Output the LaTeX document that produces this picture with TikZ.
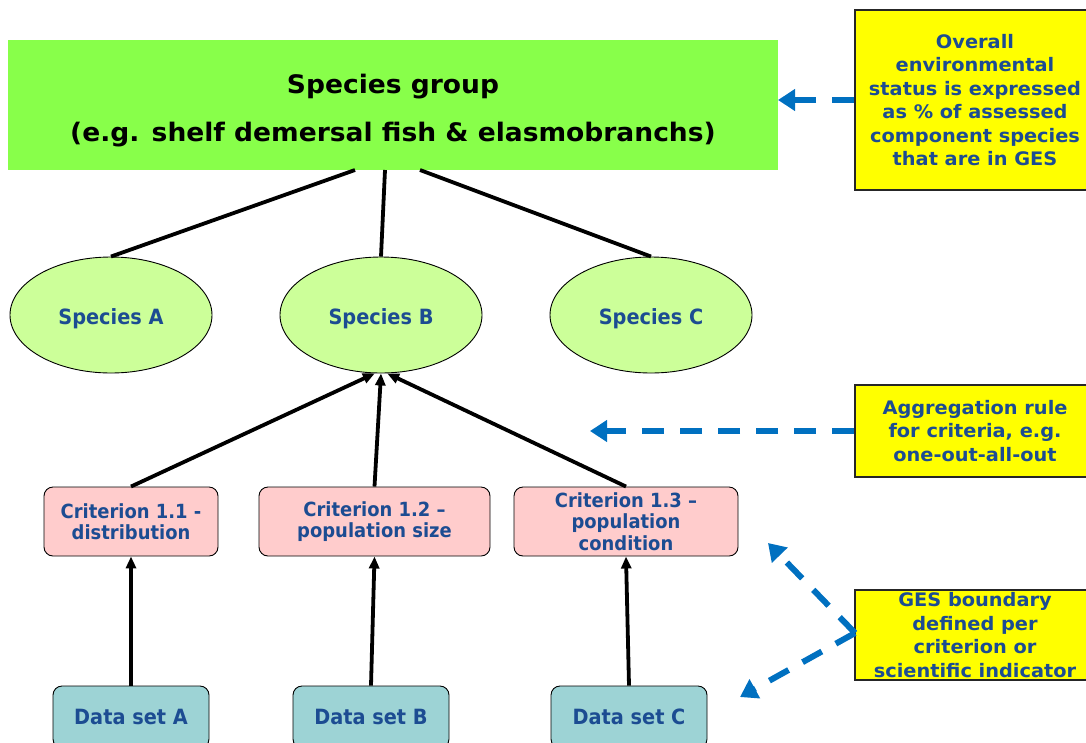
\documentclass[tikz,border=0pt]{standalone}
\usepackage{fontspec}
\setmainfont{DejaVu Sans}
\newfontfamily\condfont[FakeStretch=0.92]{DejaVu Sans}
\newfontfamily\widefont[FakeStretch=1.04]{DejaVu Sans}
\usetikzlibrary{arrows.meta,shapes.geometric}
\definecolor{grpgreen}{RGB}{136,255,74}
\definecolor{spgreen}{RGB}{204,255,153}
\definecolor{critpink}{RGB}{255,204,204}
\definecolor{datateal}{RGB}{157,211,213}
\definecolor{noteyellow}{RGB}{255,255,0}
\definecolor{txtblue}{RGB}{28,76,146}
\definecolor{arrblue}{RGB}{0,112,192}
\tikzset{
  x=1pt, y=-1pt,
  groupbox/.style={fill=grpgreen, draw=none, minimum width=770pt, minimum height=130pt, inner sep=0pt, align=center, font=\widefont\bfseries\fontsize{25.5}{48}\selectfont, text=black},
  species/.style={ellipse, draw=black, line width=0.9pt, fill=spgreen, minimum width=202pt, minimum height=116pt, inner sep=0pt, text=txtblue, font=\condfont\bfseries\fontsize{21}{24}\selectfont},
  crit/.style={rectangle, rounded corners=9pt, draw=black, line width=0.9pt, fill=critpink, minimum height=69pt, inner sep=0pt, align=center, text=txtblue, font=\condfont\bfseries\fontsize{19.5}{21.5}\selectfont},
  dataset/.style={rectangle, rounded corners=9pt, draw=black, line width=0.9pt, fill=datateal, minimum width=156pt, minimum height=62pt, inner sep=0pt, text=txtblue, font=\condfont\bfseries\fontsize{21}{24}\selectfont},
  note/.style={rectangle, draw=black!85, line width=1.6pt, fill=noteyellow, minimum width=240pt, inner sep=0pt, align=center, text=txtblue, font=\widefont\bfseries\fontsize{18.6}{23.4}\selectfont},
  link/.style={line width=3.8pt, black},
  uparrow/.style={line width=3.8pt, black, -{Triangle[length=12pt,width=10pt]}},
  bluearrow/.style={line width=6pt, arrblue, dash pattern=on 22pt off 16pt, -{Triangle[length=17pt,width=21pt]}},
}
\begin{document}
\begin{tikzpicture}
\useasboundingbox (0,0) rectangle (1086,742);
\clip (0,0) rectangle (1086,742);
% group
\node[groupbox] (grp) at (393,105) {\rule{0pt}{31pt}Species group\\(e.g. shelf demersal fish \& elasmobranchs)};
\coordinate (g1) at (355,170);
\coordinate (g2) at (385,170);
\coordinate (g3) at (420,170);
% species
\node[species] (spA) at (111,315) {\rule{0pt}{24pt}Species A};
\node[species] (spB) at (381,315) {\rule{0pt}{24pt}Species B};
\node[species] (spC) at (651,315) {\rule{0pt}{24pt}Species C};
% criteria
\node[crit, minimum width=174pt] (c1) at (131,521.5) {Criterion 1.1 -\\distribution};
\node[crit, minimum width=231pt] (c2) at (374.5,521.5) {Criterion 1.2 –\\population size};
\node[crit, minimum width=224pt] (c3) at (626,521.5) {Criterion 1.3 –\\population\\condition};
% data sets
\node[dataset] (d1) at (131,717) {Data set A};
\node[dataset] (d2) at (371,717) {Data set B};
\node[dataset] (d3) at (629,717) {Data set C};
% notes
\node[note, minimum height=180pt] (n1) at (975,100) {Overall\\environmental\\status is expressed\\as \% of assessed\\component species\\that are in GES};
\node[note, minimum height=92pt] (n2) at (975,431) {Aggregation rule\\for criteria, e.g.\\one-out-all-out};
\node[note, minimum height=90pt] (n3) at (975,635) {GES boundary\\defined per\\criterion or\\scientific indicator};
% links
\draw[link] (g1) -- (spA.north);
\draw[link] (g2) -- (spB.north);
\draw[link] (g3) -- (spC.north);
\draw[uparrow] (c1.north) -- (spB.264);
\draw[uparrow] (c2.north) -- (spB.south);
\draw[uparrow] (c3.north) -- (spB.276);
\draw[uparrow] (d1.north) -- (c1.south);
\draw[uparrow] (d2.north) -- (c2.south);
\draw[uparrow] (d3.north) -- (c3.south);
% blue dashed arrows
\coordinate (t1) at (778,100);
\coordinate (t2) at (590,431);
\coordinate (t3) at (768,543);
\coordinate (t4) at (740,697);
\coordinate (s3) at (855,633);
\draw[bluearrow] (n1.west) -- (t1);
\draw[bluearrow] (n2.west) -- (t2);
\draw[bluearrow] (s3) -- (t3);
\draw[bluearrow] (s3) -- (t4);
\end{tikzpicture}
\end{document}
